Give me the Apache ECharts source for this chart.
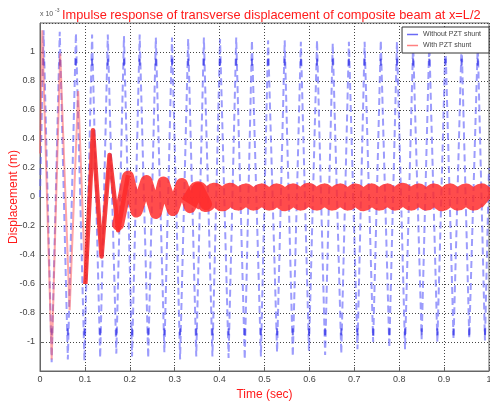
<!DOCTYPE html>
<html>
<head>
<meta charset="utf-8">
<script src="https://cdn.jsdelivr.net/npm/echarts@6/dist/echarts.min.js"></script>
<style>
  html, body { margin: 0; padding: 0; background: #fff; }
  #chart { width: 490px; height: 401px; }
</style>
</head>
<body>
<div id="chart"></div>
<script>
// Without PZT shunt: extrema of the undamped response (x 1e-3 m)
var blueTime = [0,
    0.008, 0.026, 0.044, 0.062, 0.080, 0.099, 0.116, 0.134, 0.151, 0.170,
    0.187, 0.205, 0.222, 0.241, 0.258, 0.277, 0.294, 0.312, 0.330, 0.348,
    0.365, 0.384, 0.401, 0.420, 0.437, 0.456, 0.472, 0.492, 0.508, 0.528,
    0.545, 0.563, 0.581, 0.599, 0.617, 0.635, 0.652, 0.671, 0.688, 0.707,
    0.723, 0.742, 0.759, 0.778, 0.795, 0.813, 0.831, 0.850, 0.867, 0.885,
    0.903, 0.921, 0.939, 0.956, 0.975, 0.991,
    1.0];
var blueDisp = [0,
    1.15, -1.14, 1.14, -1.12, 1.13, -1.13, 1.12, -1.11, 1.12, -1.08,
    1.11, -1.10, 1.12, -1.11, 1.10, -1.07, 1.10, -1.12, 1.09, -1.10,
    1.10, -1.10, 1.09, -1.11, 1.10, -1.12, 1.08, -1.10, 1.08, -1.07,
    1.08, -1.10, 1.07, -1.06, 1.08, -1.09, 1.06, -1.08, 1.07, -1.05,
    1.07, -1.00, 1.08, -1.04, 1.07, -1.05, 1.06, -0.98, 1.07, -1.00,
    1.06, -0.98, 1.07, -0.97, 1.06, -0.99,
    0.2];
// darker knots seen near each crest / trough
var blueKnot = [0.93, -0.93];

// With PZT shunt: early large swings
var redTime = [0, 0.005, 0.026, 0.045, 0.066, 0.085, 0.101, 0.118, 0.137, 0.155, 0.174, 0.196];
var redDisp = [0.3, 1.15, -1.12, 0.99, -0.78, 0.73, -0.60, 0.46, -0.41, 0.29, -0.23, 0.15];

// With PZT shunt: centre line of the red band while it settles
var settleTime = [0.174, 0.196, 0.215, 0.237, 0.258, 0.275, 0.296, 0.316, 0.334, 0.352, 0.370];
var settleDisp = [-0.19, 0.14, -0.10, 0.11, -0.11, 0.10, -0.09, 0.09, -0.07, 0.06, -0.05];

// With PZT shunt: centre line of the settled band
var tailTime = [
    0.334, 0.352, 0.370, 0.388, 0.406, 0.423, 0.441, 0.458, 0.476, 0.493,
    0.511, 0.528, 0.546, 0.563, 0.581, 0.598, 0.616, 0.633, 0.651,
    0.668, 0.686, 0.703, 0.721, 0.738, 0.756, 0.773, 0.791, 0.808,
    0.826, 0.843, 0.861, 0.878, 0.896, 0.913, 0.931, 0.948, 0.966,
    0.983, 1.0];
var tailDisp = [
    -0.05, 0.04, -0.035, 0.03, -0.03, 0.03, -0.025, 0.025, -0.025, 0.025,
    -0.025, 0.025, -0.03, 0.025, -0.025, 0.03, -0.025, 0.025, -0.025,
    0.025, -0.025, 0.025, -0.03, 0.025, -0.025, 0.025, -0.025, 0.03,
    -0.025, 0.025, -0.025, 0.025, -0.03, 0.025, -0.025, 0.025, -0.025,
    0.025, -0.02];

function pairs(t, v) {
    return t.map(function (x, i) { return [x, v[i]]; });
}

var chart = echarts.init(document.getElementById('chart'), null, {renderer: 'canvas'});

var knots = blueTime.slice(1, -1).map(function (t, i) {
    return [t, blueKnot[i % 2]];
});

chart.setOption({
    animation: false,
    textStyle: {fontFamily: 'Liberation Sans, Arial, sans-serif'},
    title: {
        text: 'Impulse response of transverse displacement of composite beam at x=L/2',
        left: 57, top: 4,
        textStyle: {color: '#ff1a1a', fontSize: 12.8, fontWeight: 'normal'}
    },
    graphic: [
        {type: 'text', left: 40, top: 11, style: {text: 'x 10', fontSize: 7, fill: '#555'}},
        {type: 'text', left: 55, top: 8, style: {text: '-3', fontSize: 5, fill: '#555'}}
    ],
    legend: {
        data: ['Without PZT shunt', 'With PZT shunt'],
        orient: 'vertical',
        right: 1, top: 27,
        icon: 'rect',
        itemWidth: 11, itemHeight: 1.5,
        itemGap: 4,
        padding: [4, 8, 4, 5],
        backgroundColor: '#fff',
        borderColor: '#333', borderWidth: 1,
        selectedMode: false,
        textStyle: {fontSize: 7, color: '#444'}
    },
    grid: {
        left: 40, right: 1, top: 23, bottom: 30,
        outerBoundsMode: 'none', containLabel: false,
        show: true, borderColor: '#666', borderWidth: 1
    },
    xAxis: {
        type: 'value', min: 0, max: 1, interval: 0.1,
        name: 'Time (sec)', nameLocation: 'middle', nameGap: 13,
        nameTextStyle: {color: '#ff1a1a', fontSize: 12},
        axisLine: {show: true, onZero: false, lineStyle: {color: '#666'}},
        axisTick: {show: true, inside: true, length: 4, lineStyle: {color: '#666'}},
        axisLabel: {
            fontSize: 9, color: '#444', margin: 4,
            formatter: function (v) { return String(+v.toFixed(1)); }
        },
        splitLine: {show: true, lineStyle: {color: '#444', type: [1, 2]}}
    },
    yAxis: {
        type: 'value', min: -1.2, max: 1.2, interval: 0.2,
        name: 'Displacement (m)', nameLocation: 'middle', nameGap: 20,
        nameMoveOverlap: false,
        nameTextStyle: {color: '#ff1a1a', fontSize: 12},
        axisLine: {show: true, onZero: false, lineStyle: {color: '#666'}},
        axisTick: {show: true, inside: true, length: 4, lineStyle: {color: '#666'}},
        axisLabel: {
            fontSize: 9, color: '#444', margin: 5,
            showMinLabel: false, showMaxLabel: false,
            formatter: function (v) { return Math.abs(v) > 1.1 ? '' : String(+v.toFixed(1)); }
        },
        splitLine: {show: true, lineStyle: {color: '#444', type: [1, 2]}}
    },
    series: [
        {
            name: 'Without PZT shunt', type: 'line', showSymbol: false,
            data: pairs(blueTime, blueDisp),
            color: '#6a6af5',
            lineStyle: {color: 'rgba(90,90,250,0.6)', width: 2, type: [7, 4]},
            z: 2
        },
        {
            name: 'knots', type: 'scatter', data: knots,
            symbol: 'rect', symbolSize: [2, 7],
            itemStyle: {color: 'rgba(30,30,225,0.8)'},
            silent: true, z: 2
        },
        {
            name: 'With PZT shunt', type: 'line', showSymbol: false,
            data: pairs(redTime, redDisp),
            color: '#ff8080',
            lineStyle: {color: 'rgba(255,80,80,0.5)', width: 2},
            z: 3
        },
        {
            name: 'With PZT shunt', type: 'line', showSymbol: false,
            data: pairs(redTime.slice(6), redDisp.slice(6)),
            lineStyle: {color: 'rgba(245,35,35,0.85)', width: 4.5, join: 'round'},
            z: 3
        },
        {
            name: 'With PZT shunt', type: 'line', showSymbol: false,
            data: pairs(settleTime, settleDisp),
            lineStyle: {color: 'rgba(255,45,45,0.85)', width: 12, join: 'round', cap: 'round'},
            z: 3
        },
        {
            name: 'With PZT shunt', type: 'line', showSymbol: false,
            data: pairs(tailTime, tailDisp),
            lineStyle: {color: 'rgba(255,45,45,0.85)', width: 20, join: 'round', cap: 'butt'},
            z: 3
        }
    ]
});
</script>
</body>
</html>
